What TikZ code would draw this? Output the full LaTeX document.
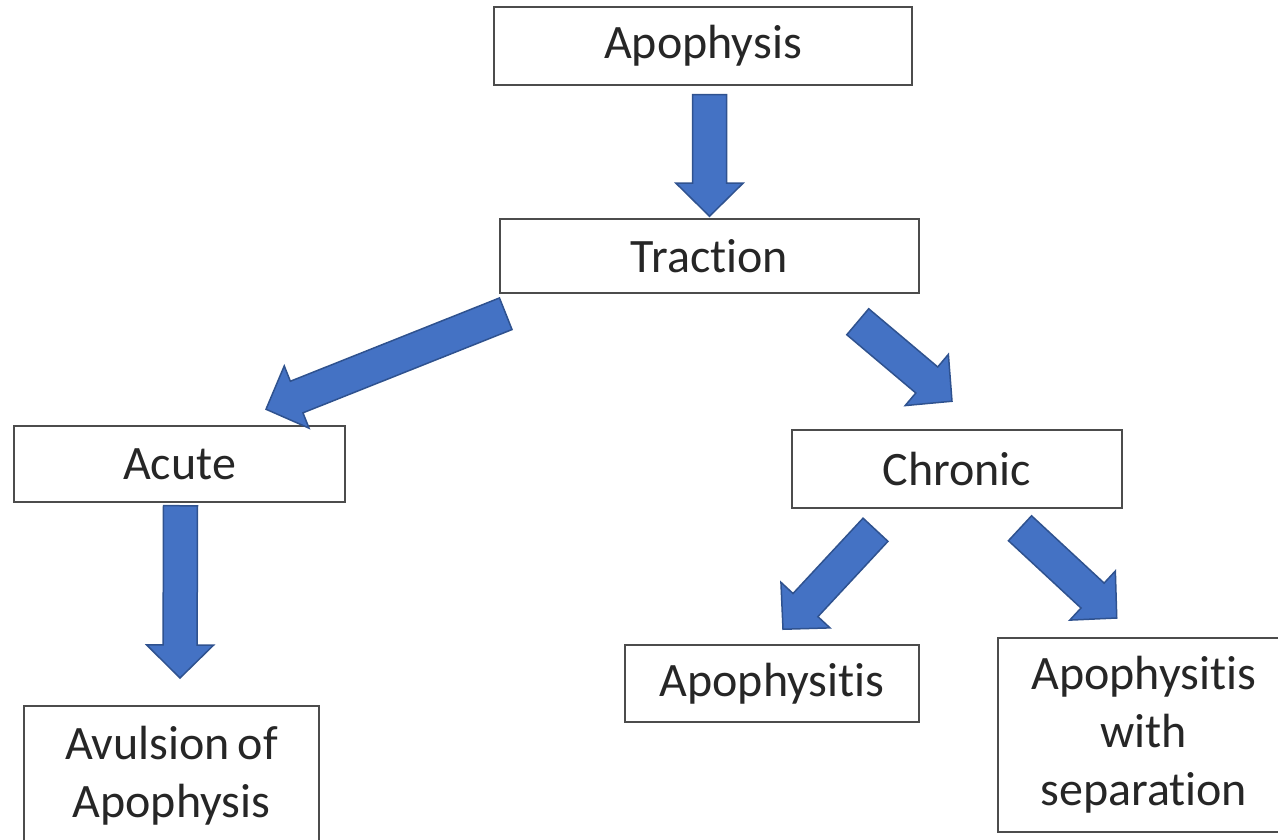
\documentclass[tikz,border=0pt]{standalone}
\usepackage{fontspec}
\setmainfont{Carlito}[Ligatures=NoCommon]
\usetikzlibrary{calc}
\definecolor{arrowfill}{HTML}{4472C4}
\definecolor{arrowline}{HTML}{2F528F}

\begin{document}
\begin{tikzpicture}[x=1pt, y=-1pt,
    box/.style = {draw=black!70, line width=1.5pt, align=center, inner sep=0pt, text=black!85, font=\fontsize{48}{58}\selectfont},
    blockarrow/.style = {fill=arrowfill, draw=arrowline, line width=1.5pt, line join=miter, to path={
        ($(\tikztostart)!17pt!90:(\tikztotarget)$)
        -- ($($(\tikztotarget)!33pt!(\tikztostart)$)!17pt!90:(\tikztotarget)$)
        -- ($($(\tikztotarget)!33pt!(\tikztostart)$)!33.5pt!90:(\tikztotarget)$)
        -- (\tikztotarget)
        -- ($($(\tikztotarget)!33pt!(\tikztostart)$)!33.5pt!-90:(\tikztotarget)$)
        -- ($($(\tikztotarget)!33pt!(\tikztostart)$)!17pt!-90:(\tikztotarget)$)
        -- ($(\tikztostart)!17pt!-90:(\tikztotarget)$) -- cycle}}]

    % frame
    \path[use as bounding box, clip] (0,0) rectangle (1278,840);

    % boxes
    \node[box, minimum width=418pt, minimum height=78pt] (apo) at (703,46) {Apophysis};
    \node[box, minimum width=419pt, minimum height=74pt] (trac) at (709.5,256) {Traction};
    \node[box, minimum width=331pt, minimum height=76pt] (acute) at (179.5,464) {Acute};
    \node[box, minimum width=330pt, minimum height=78pt] (chronic) at (957,469) {Chronic};
    \node[box, minimum width=295pt, minimum height=140pt, anchor=north] (avul) at (171.5,705) {Avulsion\hspace{-3pt} of\\Apophysis};
    \node[box, minimum width=294pt, minimum height=77pt] (itis) at (772,683.5) {Apophysitis};
    \node[box, minimum width=292pt, minimum height=194pt, anchor=north west] (sep) at (997,637) {Apophysitis\\with\\separation};

    % arrows
    \draw[blockarrow] ($(apo.south)+(6.5,9)$) to ($(trac.north)+(0,-2)$);
    \draw[blockarrow] ($(trac.south west)+(6.5,20)$) to ($(acute.north)+(86.5,-16)$);
    \draw[blockarrow] ($(trac.south east)+(-62,28)$) to ($(chronic.north)+(-5,-28)$);
    \draw[blockarrow] ($(acute.south)+(1,3)$) to ($(avul.north)+(8.5,-27)$);
    \draw[blockarrow] ($(chronic.south)+(-81.5,21)$) to ($(itis.north)+(11,-15)$);
    \draw[blockarrow] ($(chronic.south)+(63,19.5)$) to ($(sep.north)+(-27,-19)$);

\end{tikzpicture}
\end{document}
